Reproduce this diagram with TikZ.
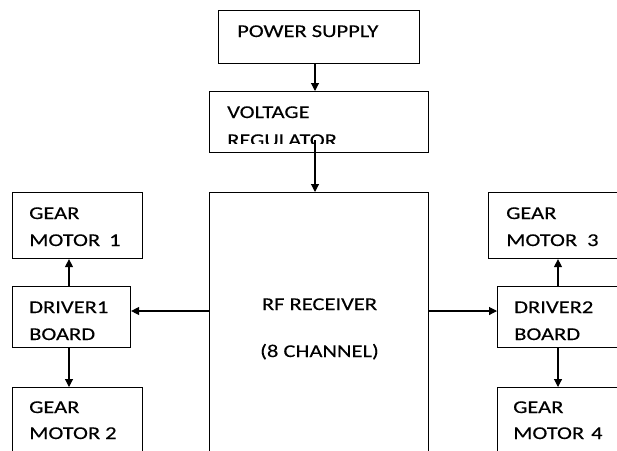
\documentclass[tikz,border=0pt]{standalone}
\usepackage{fontspec}
\setmainfont{Carlito}[FakeStretch=1.25,FakeBold=0.25]
\usetikzlibrary{arrows.meta}
\tikzset{
  box/.style={draw=black, line width=1.1pt, rectangle, inner sep=0pt, anchor=north west, fill=none},
  lbl/.style={anchor=base west, inner sep=0pt, font=\fontsize{18}{27}\selectfont, text=black},
  arr/.style={draw=black, line width=1.1pt, -{Triangle[length=8pt,width=8pt]}}
}
\begin{document}
\begin{tikzpicture}[x=1pt,y=-1pt]
\useasboundingbox (0,0) rectangle (617,450);
\clip (0,0) rectangle (617,450);
% boxes
\node[box, minimum width=201pt, minimum height=53pt] (ps) at (218,10) {};
\node[box, minimum width=219pt, minimum height=61pt] (vr) at (209,91) {};
\node[box, minimum width=219pt, minimum height=280pt] (rf) at (209,192) {};
\node[box, minimum width=130pt, minimum height=66pt] (gm1) at (12,192) {};
\node[box, minimum width=118pt, minimum height=61pt] (d1) at (12,286) {};
\node[box, minimum width=130pt, minimum height=80pt] (gm2) at (12,387) {};
\node[box, minimum width=150pt, minimum height=66pt] (gm3) at (488,192) {};
\node[box, minimum width=150pt, minimum height=61pt] (d2) at (497,286) {};
\node[box, minimum width=150pt, minimum height=80pt] (gm4) at (497,387) {};
% labels
\node[lbl] (tps) at (237,37) {POWER SUPPLY};
\node[lbl] (tvr1) at (227,118) {VOLTAGE};
\begin{scope}
\clip (209,91) rectangle (428,143.5);
\node[lbl] (tvr2) at (227,146) {REGULATOR};
\end{scope}
\node[lbl, anchor=base] (trf1) at (319.5,310) {RF RECEIVER};
\node[lbl, anchor=base] (trf2) at (319.5,357) {(8 CHANNEL)};
\node[lbl] (tg1a) at (29,219) {GEAR};
\node[lbl] (tg1b) at (29,246) {MOTOR\hspace{9pt}1};
\node[lbl] (td1a) at (29,313) {DRIVER1};
\node[lbl] (td1b) at (29,340) {BOARD};
\node[lbl] (tg2a) at (29,413) {GEAR};
\node[lbl] (tg2b) at (29,439) {MOTOR\hspace{5pt}2};
\node[lbl] (tg3a) at (506,219) {GEAR};
\node[lbl] (tg3b) at (506,246) {MOTOR\hspace{10pt}3};
\node[lbl] (td2a) at (514,313) {DRIVER2};
\node[lbl] (td2b) at (514,340) {BOARD};
\node[lbl] (tg4a) at (513,413) {GEAR};
\node[lbl] (tg4b) at (513,439) {MOTOR\hspace{7pt}4};
% connector helpers
\coordinate (cx) at (315,0);
\coordinate (vrout) at (315,140);
\coordinate (lx) at (69,0);
\coordinate (rx) at (558,0);
\coordinate (hy) at (0,311);
% connectors
\draw[arr] (ps.south -| cx) -- (vr.north -| cx);
\draw[arr] (vrout) -- (rf.north -| cx);
\draw[arr] (rf.west |- hy) -- (d1.east |- hy);
\draw[arr] (rf.east |- hy) -- (d2.west |- hy);
\draw[arr] (d1.north -| lx) -- (gm1.south -| lx);
\draw[arr] (d1.south -| lx) -- (gm2.north -| lx);
\draw[arr] (d2.north -| rx) -- (gm3.south -| rx);
\draw[arr] (d2.south -| rx) -- (gm4.north -| rx);
\end{tikzpicture}
\end{document}
